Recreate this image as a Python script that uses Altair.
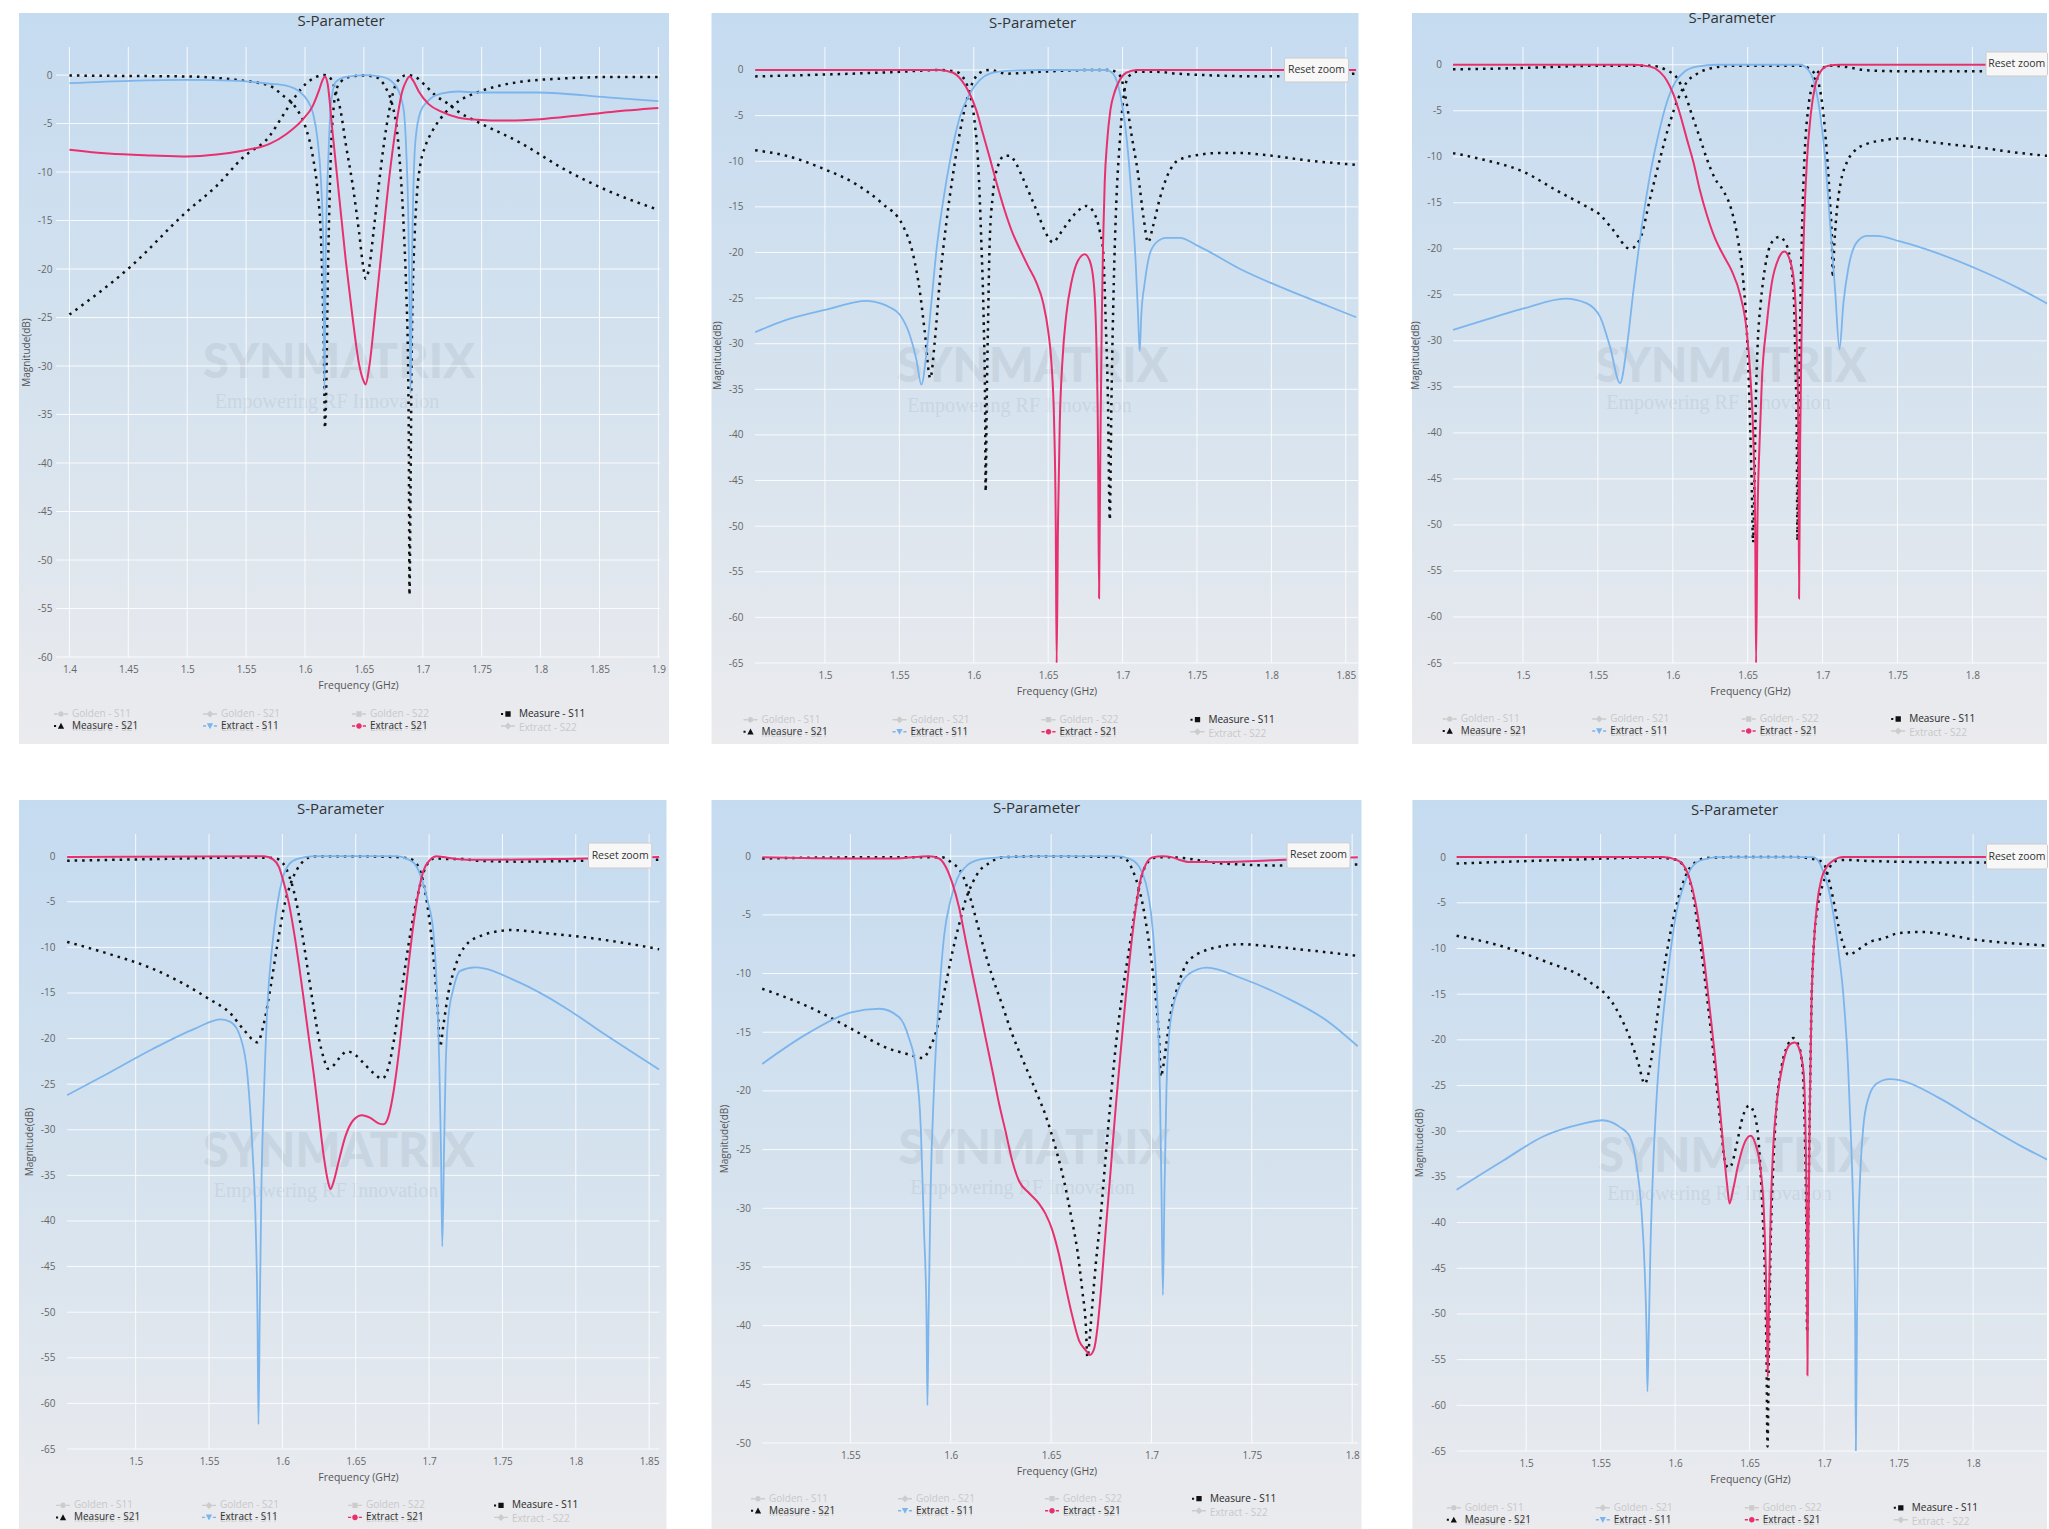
import json
import altair as alt
import pandas as pd

# ---------------------------------------------------------------- legend entries
SERIES = ["Golden - S11", "Golden - S21", "Golden - S22", "Measure - S11",
          "Measure - S21", "Extract - S11", "Extract - S21", "Extract - S22"]
HIDDEN = ["Golden - S11", "Golden - S21", "Golden - S22", "Extract - S22"]
SERIES_COLORS = ["#cccccc", "#cccccc", "#cccccc", "#111111",
                 "#111111", "#7cb5ec", "#e8306e", "#cccccc"]

# ---------------------------------------------------------------- axis ticks
X_TICKS_WIDE = [1.4, 1.45, 1.5, 1.55, 1.6, 1.65, 1.7, 1.75, 1.8, 1.85, 1.9]
X_TICKS_ZOOM = [1.5, 1.55, 1.6, 1.65, 1.7, 1.75, 1.8, 1.85]
X_TICKS_CUT = [1.5, 1.55, 1.6, 1.65, 1.7, 1.75, 1.8]
X_TICKS_NARROW = [1.55, 1.6, 1.65, 1.7, 1.75, 1.8]
Y_TICKS_60 = [-60, -55, -50, -45, -40, -35, -30, -25, -20, -15, -10, -5, 0]
Y_TICKS_65 = [-65, -60, -55, -50, -45, -40, -35, -30, -25, -20, -15, -10, -5, 0]
Y_TICKS_50 = [-50, -45, -40, -35, -30, -25, -20, -15, -10, -5, 0]

# ---------------------------------------------------------------- panel 1 (frequency GHz, magnitude dB)
P1_MEAS_S11 = [(1.400, -0.05), (1.450, -0.1), (1.500, -0.15), (1.525, -0.3), (1.545, -0.55),
               (1.5699, -1.1), (1.5811, -2.1), (1.5924, -3.4), (1.6008, -5.5), (1.6065, -8.3),
               (1.6107, -12.0), (1.6135, -16.6), (1.6150, -22.4), (1.6163, -30.7), (1.6169, -36.4),
               (1.6183, -30.7), (1.6192, -22.4), (1.6206, -14.1), (1.6220, -7.9), (1.6240, -3.8),
               (1.6262, -1.7), (1.6304, -0.7), (1.6375, -0.2), (1.6500, -0.05), (1.6600, -0.2),
               (1.6685, -1.3), (1.6740, -3.0), (1.6783, -5.9), (1.6811, -10.0), (1.6840, -16.2),
               (1.6860, -22.4), (1.6876, -30.7), (1.6882, -38.9), (1.6887, -53.6), (1.6896, -43.0),
               (1.6904, -30.7), (1.6915, -22.4), (1.6932, -16.2), (1.6952, -12.0), (1.6980, -9.2),
               (1.7023, -7.3), (1.7080, -5.8), (1.7150, -4.5), (1.7230, -3.4), (1.7304, -2.7),
               (1.7460, -1.8), (1.7650, -1.1), (1.7830, -0.7), (1.8200, -0.35), (1.8600, -0.2),
               (1.9000, -0.2)]
P1_MEAS_S21 = [(1.400, -24.7), (1.4515, -19.8), (1.4994, -14.1), (1.5252, -11.4), (1.5473, -8.5),
               (1.5699, -6.3), (1.5811, -4.2), (1.5924, -2.1), (1.6008, -0.9), (1.6093, -0.2),
               (1.6160, 0.0), (1.6206, -0.2), (1.6262, -1.7), (1.6304, -3.8), (1.6346, -7.1),
               (1.6403, -11.2), (1.6459, -16.2), (1.6496, -19.9), (1.6515, -21.0), (1.6544, -19.9),
               (1.6586, -15.7), (1.6628, -11.2), (1.6670, -7.1), (1.6713, -3.8), (1.6755, -1.5),
               (1.6811, -0.3), (1.6868, 0.0), (1.6938, -0.2), (1.7023, -1.1), (1.7107, -2.1),
               (1.7220, -3.0), (1.7304, -3.8), (1.7460, -4.8), (1.7830, -7.0), (1.8200, -9.7),
               (1.8566, -11.9), (1.9000, -13.9)]
P1_EXT_S11 = [(1.400, -0.84), (1.4515, -0.6), (1.500, -0.5), (1.5436, -0.6), (1.5699, -0.9),
              (1.584, -1.1), (1.5952, -1.7), (1.602, -2.6), (1.6065, -3.8), (1.6107, -6.7),
              (1.6135, -10.8), (1.6155, -17.4), (1.6165, -32.5), (1.6177, -18.0), (1.6200, -8.0),
              (1.6220, -3.0), (1.6262, -0.7), (1.6346, -0.2), (1.6515, 0.0), (1.6656, -0.2),
              (1.6740, -0.7), (1.6797, -1.7), (1.6840, -3.8), (1.6860, -7.9), (1.6876, -14.0),
              (1.6887, -22.4), (1.6896, -32.8), (1.6910, -18.0), (1.6938, -6.7), (1.6980, -3.8),
              (1.7050, -2.6), (1.7163, -1.9), (1.7304, -1.7), (1.7460, -1.8), (1.7976, -1.8),
              (1.8566, -2.3), (1.9000, -2.7)]
P1_EXT_S21 = [(1.400, -7.7), (1.433, -8.1), (1.470, -8.3), (1.500, -8.4), (1.525, -8.2),
              (1.547, -7.8), (1.5699, -7.1), (1.584, -6.1), (1.598, -4.6), (1.6065, -3.2),
              (1.6121, -1.5), (1.615, -0.5), (1.6169, -0.15), (1.6192, -0.9), (1.6234, -5.9),
              (1.629, -12.5), (1.6346, -19.1), (1.6403, -24.9), (1.6459, -29.8), (1.6496, -31.5),
              (1.6515, -31.9), (1.6544, -30.2), (1.660, -24.0), (1.6656, -17.4), (1.6713, -10.8),
              (1.677, -5.5), (1.6825, -1.7), (1.686, -0.6), (1.6887, -0.15), (1.6924, -0.7),
              (1.6966, -1.7), (1.705, -3.0), (1.7163, -3.8), (1.7304, -4.4), (1.746, -4.6),
              (1.770, -4.7), (1.800, -4.55), (1.830, -4.2), (1.860, -3.8), (1.900, -3.4)]

# ---------------------------------------------------------------- panel 2
P2_MEAS_S11 = [(1.4531, -8.8), (1.474, -9.4), (1.500, -10.9), (1.5207, -12.5), (1.5382, -14.6),
               (1.5525, -17.1), (1.5592, -20.2), (1.5637, -24.2), (1.567, -28.6), (1.5708, -33.8),
               (1.5737, -29.9), (1.5771, -23.3), (1.5816, -16.7), (1.5861, -11.4), (1.5905, -7.0),
               (1.595, -3.5), (1.5995, -1.3), (1.604, -0.3), (1.6107, 0.0), (1.6219, -0.4),
               (1.6443, -0.2), (1.6779, 0.0), (1.6914, 0.0), (1.6981, -0.6), (1.7026, -3.5),
               (1.7059, -7.0), (1.7104, -11.4), (1.7142, -16.3), (1.7171, -18.9), (1.7205, -17.1),
               (1.725, -14.1), (1.7306, -11.4), (1.7373, -9.9), (1.751, -9.3), (1.7655, -9.1),
               (1.780, -9.1), (1.7947, -9.3), (1.8238, -9.9), (1.857, -10.4)]
P2_MEAS_S21 = [(1.4531, -0.7), (1.500, -0.5), (1.550, -0.2), (1.577, 0.0), (1.5883, -0.2),
               (1.5939, -1.1), (1.5973, -2.6), (1.6006, -5.7), (1.6029, -10.1), (1.6051, -18.9),
               (1.6067, -27.7), (1.6076, -36.5), (1.608, -46.2), (1.6087, -36.5), (1.6096, -27.7),
               (1.6107, -18.9), (1.6129, -13.6), (1.6163, -10.5), (1.6208, -9.4), (1.6242, -9.4),
               (1.6286, -10.3), (1.6331, -11.9), (1.6376, -13.6), (1.6432, -15.8), (1.6488, -18.0),
               (1.6533, -18.9), (1.6578, -18.0), (1.6634, -16.7), (1.669, -15.6), (1.6757, -14.9),
               (1.6813, -15.8), (1.6846, -17.6), (1.6869, -19.8), (1.6887, -27.7), (1.6902, -36.5),
               (1.6914, -49.3), (1.6925, -36.5), (1.6941, -23.3), (1.6958, -14.5), (1.6981, -7.9),
               (1.7003, -3.5), (1.7037, -0.8), (1.7093, -0.2), (1.7227, -0.2), (1.7364, -0.4),
               (1.7947, -0.7), (1.857, -0.4)]
P2_EXT_S11 = [(1.4531, -28.75), (1.474, -27.4), (1.500, -26.3), (1.528, -25.3), (1.538, -25.6),
              (1.5435, -26.0), (1.5502, -26.8), (1.5569, -29.0), (1.5614, -31.7), (1.5648, -34.5),
              (1.5681, -31.2), (1.5715, -25.5), (1.5749, -19.8), (1.5793, -14.5), (1.5849, -9.2),
              (1.5905, -5.2), (1.5973, -2.6), (1.604, -1.1), (1.6107, -0.4), (1.6219, -0.1),
              (1.6443, 0.0), (1.6891, 0.0), (1.6936, -0.4), (1.697, -1.7), (1.7003, -4.4),
              (1.703, -7.9), (1.7059, -13.6), (1.7088, -21.1), (1.7104, -26.8), (1.7115, -30.8),
              (1.7126, -26.8), (1.7149, -23.3), (1.7182, -20.2), (1.7227, -18.9), (1.7294, -18.4),
              (1.7384, -18.4), (1.751, -19.3), (1.780, -21.9), (1.8092, -24.0), (1.8384, -25.9),
              (1.857, -27.1)]
P2_EXT_S21 = [(1.4531, 0.0), (1.577, 0.0), (1.586, -0.3), (1.5917, -1.1), (1.5973, -2.6),
              (1.6017, -4.4), (1.6062, -7.0), (1.6107, -9.6), (1.6152, -12.3), (1.6208, -15.4),
              (1.6264, -18.0), (1.6309, -19.6), (1.6365, -21.5), (1.6421, -23.3), (1.6466, -25.5),
              (1.650, -28.6), (1.6522, -32.1), (1.654, -38.7), (1.6551, -49.7), (1.6557, -65.0),
              (1.6566, -49.7), (1.6578, -38.7), (1.6595, -32.1), (1.6622, -26.8), (1.6656, -23.3),
              (1.670, -20.9), (1.6746, -20.2), (1.6779, -20.9), (1.6806, -23.3), (1.6824, -29.9),
              (1.6835, -40.9), (1.6842, -57.9), (1.6851, -40.9), (1.686, -27.7), (1.6869, -18.9),
              (1.688, -12.3), (1.6896, -7.9), (1.6918, -4.4), (1.6947, -2.4), (1.6981, -1.1),
              (1.7026, -0.3), (1.7093, 0.0), (1.857, 0.0)]

# ---------------------------------------------------------------- panel 3
P3_MEAS_S11 = [(1.4533, -9.6), (1.4732, -10.3), (1.500, -11.6), (1.5229, -13.7), (1.5423, -15.4),
               (1.5515, -16.3), (1.5604, -18.0), (1.5715, -20.0), (1.5782, -18.9), (1.5849, -14.5),
               (1.5915, -10.2), (1.5982, -6.2), (1.6038, -3.6), (1.6093, -1.9), (1.616, -1.0),
               (1.6249, -0.4), (1.6405, -0.1), (1.685, -0.1), (1.6939, -0.8), (1.6984, -2.8),
               (1.7011, -6.2), (1.7033, -10.6), (1.705, -15.0), (1.7061, -18.5), (1.7068, -23.1),
               (1.7079, -19.3), (1.7095, -15.9), (1.7121, -12.8), (1.7162, -10.6), (1.7217, -9.3),
               (1.7295, -8.6), (1.7406, -8.2), (1.7518, -8.0), (1.777, -8.5), (1.8047, -9.0),
               (1.8323, -9.6), (1.857, -10.0)]
P3_MEAS_S21 = [(1.4533, -0.5), (1.500, -0.35), (1.5515, -0.1), (1.5849, -0.1), (1.596, -0.6),
               (1.6027, -1.4), (1.6082, -3.2), (1.6127, -5.4), (1.6182, -8.0), (1.6227, -10.2),
               (1.6283, -12.4), (1.6338, -13.7), (1.6394, -15.9), (1.6438, -19.3), (1.6472, -23.7),
               (1.6498, -30.3), (1.6516, -39.0), (1.6527, -45.5), (1.6536, -51.9), (1.6545, -45.5),
               (1.6554, -36.8), (1.6567, -30.3), (1.6587, -25.9), (1.6616, -22.0), (1.6661, -19.3),
               (1.6712, -18.7), (1.675, -19.3), (1.6783, -21.1), (1.6806, -24.6), (1.6819, -32.4),
               (1.6828, -41.2), (1.6832, -51.7), (1.6839, -41.2), (1.6846, -32.4), (1.6855, -23.7),
               (1.6868, -15.0), (1.6883, -8.9), (1.6906, -4.5), (1.6939, -1.9), (1.6984, -0.6),
               (1.705, -0.1), (1.7139, -0.2), (1.7295, -0.6), (1.7518, -0.7), (1.8047, -0.7),
               (1.857, -0.6)]
P3_EXT_S11 = [(1.4533, -28.8), (1.4732, -27.8), (1.500, -26.5), (1.5285, -25.4), (1.5423, -25.9),
              (1.5515, -27.4), (1.5582, -30.7), (1.5648, -34.6), (1.5693, -30.7), (1.5737, -24.6),
              (1.5793, -17.6), (1.5849, -11.9), (1.5904, -7.6), (1.596, -4.1), (1.6016, -1.9),
              (1.6082, -0.7), (1.616, -0.2), (1.6294, 0.0), (1.685, 0.0), (1.6906, -0.6),
              (1.695, -2.3), (1.6984, -5.4), (1.7017, -10.2), (1.705, -17.2), (1.7084, -24.6),
              (1.7113, -30.9), (1.7139, -25.9), (1.7173, -22.0), (1.7228, -19.3), (1.7295, -18.6),
              (1.7362, -18.6), (1.7518, -19.2), (1.777, -20.5), (1.8047, -22.3), (1.8323, -24.4),
              (1.857, -26.6)]
P3_EXT_S21 = [(1.4533, 0.0), (1.5737, 0.0), (1.5849, -0.2), (1.5915, -0.8), (1.596, -1.7),
              (1.6004, -3.2), (1.6049, -5.4), (1.6093, -8.0), (1.6138, -10.6), (1.6182, -13.7),
              (1.6227, -16.3), (1.6283, -18.9), (1.6338, -20.7), (1.6394, -22.4), (1.645, -25.0),
              (1.6494, -29.0), (1.6521, -34.6), (1.6539, -41.2), (1.655, -49.9), (1.6556, -65.0),
              (1.6565, -49.9), (1.6579, -41.2), (1.6594, -34.6), (1.6628, -28.1), (1.6661, -23.7),
              (1.6705, -21.1), (1.6745, -20.3), (1.6783, -21.3), (1.681, -23.7), (1.6828, -30.3),
              (1.6839, -41.2), (1.6843, -58.0), (1.685, -41.2), (1.6861, -28.1), (1.6877, -17.2),
              (1.6895, -10.6), (1.6921, -5.4), (1.695, -2.3), (1.6984, -0.8), (1.7039, -0.1),
              (1.7117, 0.0), (1.857, 0.0)]

# ---------------------------------------------------------------- panel 4
P4_MEAS_S11 = [(1.4533, -9.4), (1.4814, -10.7), (1.5109, -12.3), (1.5316, -13.9), (1.5494, -15.6),
               (1.5649, -17.3), (1.574, -19.1), (1.583, -20.4), (1.5876, -18.2), (1.5921, -14.2),
               (1.5966, -9.7), (1.6011, -5.6), (1.6057, -3.0), (1.6102, -1.4), (1.6147, -0.5),
               (1.6215, 0.0), (1.6441, 0.0), (1.6781, -0.1), (1.6871, -0.3), (1.6928, -1.2),
               (1.6962, -3.0), (1.6995, -6.1), (1.7029, -11.0), (1.7057, -16.4), (1.7075, -20.9),
               (1.7097, -18.6), (1.7131, -15.0), (1.7165, -12.8), (1.721, -10.8), (1.7326, -8.9),
               (1.7563, -8.1), (1.777, -8.4), (1.8065, -8.9), (1.8361, -9.6), (1.8568, -10.2)]
P4_MEAS_S21 = [(1.4533, -0.5), (1.520, -0.3), (1.573, -0.15), (1.5943, -0.2), (1.600, -0.7),
               (1.6045, -2.1), (1.6079, -3.9), (1.6113, -6.5), (1.6147, -9.7), (1.6181, -13.3),
               (1.6215, -16.8), (1.6249, -20.0), (1.6283, -22.2), (1.631, -23.3), (1.6339, -23.1),
               (1.6385, -22.2), (1.6441, -21.4), (1.6498, -21.8), (1.6554, -22.7), (1.6622, -23.8),
               (1.6679, -24.4), (1.6724, -23.1), (1.6758, -20.4), (1.6792, -16.8), (1.6826, -13.3),
               (1.686, -9.7), (1.6894, -6.5), (1.6928, -3.9), (1.6962, -1.8), (1.6995, -0.7),
               (1.7041, -0.2), (1.7097, -0.3), (1.721, -0.3), (1.7326, -0.5), (1.7622, -0.6),
               (1.8065, -0.5), (1.8568, -0.4)]
P4_EXT_S11 = [(1.4533, -26.2), (1.4814, -23.8), (1.5109, -21.2), (1.5405, -18.9), (1.5582, -17.9),
              (1.5649, -18.2), (1.5717, -20.0), (1.5762, -24.0), (1.5796, -32.1), (1.5819, -41.0),
              (1.583, -50.0), (1.5837, -62.3), (1.5846, -50.0), (1.5857, -36.5), (1.5876, -25.3),
              (1.5898, -16.4), (1.5932, -9.7), (1.5966, -5.2), (1.600, -2.5), (1.6045, -0.9),
              (1.6102, -0.3), (1.6215, 0.0), (1.6781, 0.0), (1.6848, -0.3), (1.6905, -0.9),
              (1.695, -2.5), (1.6995, -5.2), (1.7029, -8.3), (1.7052, -14.2), (1.707, -23.1),
              (1.7081, -32.1), (1.709, -42.8), (1.7102, -32.1), (1.7113, -23.1), (1.7131, -17.7),
              (1.7165, -14.6), (1.721, -12.6), (1.7312, -12.2), (1.7622, -13.9), (1.7917, -16.5),
              (1.8213, -19.7), (1.8568, -23.4)]
P4_EXT_S21 = [(1.4533, -0.1), (1.5876, 0.0), (1.5932, -0.3), (1.5977, -1.2), (1.6011, -3.0),
              (1.6045, -5.2), (1.6079, -8.3), (1.6113, -11.9), (1.6147, -15.9), (1.6181, -20.0),
              (1.6215, -24.0), (1.6249, -28.5), (1.6283, -33.0), (1.631, -35.6), (1.6328, -36.5),
              (1.6351, -35.6), (1.6385, -33.4), (1.643, -30.7), (1.6486, -28.9), (1.6543, -28.4),
              (1.660, -28.7), (1.6656, -29.3), (1.669, -29.4), (1.6724, -28.5), (1.6758, -25.8),
              (1.6792, -21.8), (1.6826, -16.8), (1.686, -11.9), (1.6894, -7.4), (1.6928, -3.9),
              (1.6962, -1.6), (1.7007, -0.4), (1.7052, 0.0), (1.7097, -0.1), (1.7188, -0.3),
              (1.7326, -0.4), (1.7917, -0.3), (1.8568, -0.1)]

# ---------------------------------------------------------------- panel 5
P5_MEAS_S11 = [(1.5061, -11.3), (1.5288, -12.8), (1.5504, -14.7), (1.5677, -16.3), (1.5792, -16.9),
               (1.5859, -17.2), (1.590, -16.2), (1.5934, -14.5), (1.5958, -12.4), (1.5983, -10.3),
               (1.6008, -8.2), (1.6042, -5.8), (1.6075, -3.7), (1.6108, -2.3), (1.6141, -1.3),
               (1.6191, -0.6), (1.6257, -0.1), (1.6457, 0.0), (1.6855, -0.1), (1.6889, -0.6),
               (1.6922, -1.9), (1.6955, -4.0), (1.698, -6.5), (1.7005, -9.6), (1.7025, -12.7),
               (1.7038, -15.5), (1.7047, -18.8), (1.7058, -18.0), (1.7075, -15.9), (1.7096, -13.4),
               (1.7121, -11.7), (1.719, -8.8), (1.7341, -7.7), (1.7449, -7.5), (1.760, -7.7),
               (1.7773, -8.0), (1.8028, -8.5)]
P5_MEAS_S21 = [(1.5061, -0.2), (1.5504, -0.1), (1.5892, -0.1), (1.5958, -0.1), (1.6008, -0.6),
               (1.605, -1.3), (1.6075, -2.3), (1.610, -3.7), (1.6133, -5.8), (1.6166, -7.9),
               (1.6208, -10.3), (1.6257, -12.7), (1.6307, -15.2), (1.6365, -17.6), (1.6424, -20.0),
               (1.6473, -22.1), (1.6523, -24.9), (1.6565, -27.7), (1.6598, -30.5), (1.6631, -33.6),
               (1.6656, -37.1), (1.6673, -39.9), (1.6681, -42.7), (1.6693, -40.9), (1.6706, -38.1),
               (1.6723, -34.7), (1.6748, -30.5), (1.6772, -25.6), (1.6797, -20.7), (1.6822, -16.2),
               (1.6855, -11.7), (1.6889, -7.9), (1.6914, -5.1), (1.6939, -2.6), (1.6963, -1.1),
               (1.6997, -0.3), (1.703, -0.1), (1.7105, -0.1), (1.7341, -0.6), (1.7665, -0.8),
               (1.8028, -0.7)]
P5_EXT_S11 = [(1.5061, -17.7), (1.5288, -15.1), (1.5504, -13.3), (1.5645, -13.0), (1.5742, -13.7),
              (1.5792, -15.5), (1.5826, -18.0), (1.5851, -23.2), (1.5867, -31.9), (1.5879, -38.8),
              (1.5884, -46.8), (1.589, -38.8), (1.590, -28.4), (1.5917, -19.7), (1.5942, -12.0),
              (1.5967, -6.8), (1.600, -3.7), (1.6033, -1.9), (1.6075, -0.9), (1.6141, -0.3),
              (1.6241, -0.1), (1.6457, 0.0), (1.6822, 0.0), (1.6889, -0.2), (1.6939, -0.9),
              (1.6972, -2.3), (1.6997, -4.7), (1.7017, -8.6), (1.703, -12.7), (1.7042, -19.7),
              (1.705, -28.4), (1.7057, -37.4), (1.7065, -28.4), (1.7075, -19.7), (1.7088, -15.2),
              (1.711, -12.7), (1.7138, -11.2), (1.719, -10.0), (1.7276, -9.5), (1.7449, -10.4),
              (1.7665, -12.0), (1.7881, -14.1), (1.8028, -16.2)]
P5_EXT_S21 = [(1.5061, -0.1), (1.5504, -0.2), (1.572, -0.2), (1.5892, 0.0), (1.5942, -0.2),
              (1.5975, -0.9), (1.6008, -2.3), (1.6042, -4.4), (1.6075, -7.2), (1.6108, -10.0),
              (1.6141, -12.7), (1.6174, -15.5), (1.6208, -18.3), (1.6241, -21.1), (1.6274, -23.5),
              (1.6307, -26.0), (1.6341, -27.7), (1.639, -28.7), (1.644, -29.6), (1.6473, -30.5),
              (1.6507, -31.9), (1.654, -34.0), (1.6573, -36.7), (1.6606, -39.2), (1.664, -41.3),
              (1.6673, -42.1), (1.6693, -42.5), (1.6714, -42.0), (1.6731, -40.2), (1.6748, -37.1),
              (1.6772, -31.9), (1.6797, -26.7), (1.6822, -21.4), (1.6847, -16.6), (1.6872, -12.0),
              (1.6897, -7.9), (1.6922, -4.4), (1.6947, -1.9), (1.6972, -0.7), (1.7005, -0.1),
              (1.7055, 0.0), (1.7105, -0.1), (1.7138, -0.3), (1.719, -0.5), (1.7341, -0.5),
              (1.7665, -0.3), (1.8028, -0.1)]

# ---------------------------------------------------------------- panel 6
P6_MEAS_S11 = [(1.4533, -8.6), (1.4847, -9.8), (1.5125, -11.4), (1.5403, -13.4), (1.5597, -16.4),
               (1.5696, -19.8), (1.5752, -22.5), (1.5796, -24.8), (1.583, -23.0), (1.5864, -19.4),
               (1.5908, -14.0), (1.5953, -9.6), (1.5998, -6.0), (1.6043, -3.3), (1.6087, -1.5),
               (1.6143, -0.5), (1.621, -0.1), (1.6367, 0.0), (1.6814, 0.0), (1.6949, -0.3),
               (1.6993, -0.6), (1.7038, -2.9), (1.7072, -5.5), (1.7105, -8.2), (1.7139, -10.0),
               (1.7161, -10.7), (1.7195, -10.5), (1.724, -10.0), (1.7306, -9.3), (1.7396, -8.9),
               (1.7508, -8.3), (1.7653, -8.2), (1.8042, -9.1), (1.8508, -9.7)]
P6_MEAS_S21 = [(1.4533, -0.7), (1.5264, -0.3), (1.5819, -0.05), (1.5919, -0.1), (1.6009, -0.3),
               (1.6087, -2.0), (1.6121, -4.2), (1.6154, -7.8), (1.6188, -11.8), (1.6221, -16.3),
               (1.6255, -21.2), (1.6282, -25.6), (1.6311, -30.1), (1.6333, -33.2), (1.6356, -34.0),
               (1.6378, -33.7), (1.6412, -31.5), (1.6456, -28.3), (1.6497, -27.2), (1.6535, -28.3),
               (1.6564, -31.9), (1.6586, -38.6), (1.6602, -45.3), (1.6613, -54.2), (1.662, -64.5),
               (1.6629, -54.2), (1.664, -43.1), (1.6658, -34.1), (1.668, -27.4), (1.6714, -23.0),
               (1.6758, -20.5), (1.6792, -19.8), (1.6826, -20.5), (1.6855, -23.0), (1.687, -29.7),
               (1.6881, -40.8), (1.6886, -52.0), (1.6893, -40.8), (1.6904, -27.4), (1.6915, -16.3),
               (1.6931, -9.6), (1.696, -5.1), (1.6993, -2.9), (1.7038, -1.1), (1.7083, -0.4),
               (1.715, -0.3), (1.7262, -0.4), (1.7486, -0.5), (1.8042, -0.6), (1.8508, -0.6)]
P6_EXT_S11 = [(1.4533, -36.4), (1.4847, -33.2), (1.5125, -30.5), (1.5375, -29.2), (1.5514, -28.8),
              (1.5625, -29.5), (1.5696, -30.6), (1.5741, -33.7), (1.5774, -38.6), (1.5796, -45.3),
              (1.5808, -52.0), (1.5814, -58.5), (1.5823, -52.0), (1.5834, -43.1), (1.5852, -34.1),
              (1.5875, -26.5), (1.5908, -19.4), (1.5942, -14.0), (1.5975, -9.6), (1.6009, -6.0),
              (1.6054, -3.3), (1.6098, -1.5), (1.6143, -0.6), (1.621, -0.2), (1.6277, 0.0),
              (1.6926, 0.0), (1.696, -0.4), (1.6993, -1.5), (1.7027, -3.3), (1.706, -6.0),
              (1.7094, -10.0), (1.7128, -14.9), (1.7161, -23.0), (1.7183, -31.9), (1.7199, -40.8),
              (1.7208, -49.8), (1.7213, -65.0), (1.7221, -49.8), (1.723, -40.8), (1.7244, -34.1),
              (1.7262, -29.7), (1.7295, -26.5), (1.7351, -24.8), (1.7441, -24.3), (1.7508, -24.4),
              (1.7764, -26.3), (1.8042, -29.0), (1.8319, -31.6), (1.8508, -33.2)]
P6_EXT_S21 = [(1.4533, 0.0), (1.5919, 0.0), (1.6009, -0.3), (1.6065, -1.1), (1.6098, -2.4),
              (1.6132, -4.6), (1.6166, -7.8), (1.6199, -11.8), (1.6233, -16.7), (1.6266, -21.6),
              (1.6295, -26.5), (1.6322, -31.5), (1.6349, -35.9), (1.6365, -37.9), (1.6389, -36.4),
              (1.6423, -33.7), (1.6468, -31.2), (1.6506, -30.5), (1.6541, -31.5), (1.6573, -34.1),
              (1.6595, -38.6), (1.6609, -45.3), (1.6617, -52.0), (1.6622, -56.9), (1.6631, -47.5),
              (1.6642, -38.6), (1.6658, -31.9), (1.6685, -26.5), (1.6725, -22.5), (1.677, -20.5),
              (1.6803, -20.3), (1.6837, -21.2), (1.6864, -23.9), (1.6877, -31.9), (1.6884, -40.8),
              (1.6888, -56.7), (1.6895, -40.8), (1.6904, -27.4), (1.6915, -16.3), (1.6931, -9.6),
              (1.6953, -5.1), (1.6982, -2.4), (1.7016, -1.1), (1.706, -0.4), (1.7128, 0.0),
              (1.8508, 0.0)]

# ---------------------------------------------------------------- styling
FONT = "Open Sans"
PANEL_FILL = {"gradient": "linear", "x1": 0, "x2": 0, "y1": 0, "y2": 1,
              "stops": [{"offset": 0, "color": "#c5dbf0"},
                        {"offset": 0.55, "color": "#d7e3ee"},
                        {"offset": 1, "color": "#ebebee"}]}
MEAS_COLOR = "#111111"
EXT_S11_COLOR = "#7cb5ec"
EXT_S21_COLOR = "#e8306e"

# legend glyphs: short line (solid / dotted / dashed) with a marker in the middle
_SOLID = "M-1,-0.1H-0.45V0.1H-1Z M0.45,-0.1H1V0.1H0.45Z "
_DASH = "M-1,-0.1H-0.55V0.1H-1Z M0.55,-0.1H1V0.1H0.55Z "
_DOT = "M-1,-0.14h0.3v0.28h-0.3Z "
_CIRCLE = "M0.4,0A0.4,0.4,0,1,1,-0.4,0A0.4,0.4,0,1,1,0.4,0Z"
_DIAMOND = "M0,-0.5L0.5,0L0,0.5L-0.5,0Z"
_SQUARE = "M-0.38,-0.38H0.38V0.38H-0.38Z"
_TRI_UP = "M0,-0.45L0.45,0.4H-0.45Z"
_TRI_DOWN = "M-0.45,-0.4H0.45L0,0.45Z"
SYMBOLS = [_SOLID + _CIRCLE, _SOLID + _DIAMOND, _SOLID + _SQUARE, _DOT + _SQUARE,
           _DOT + _TRI_UP, _DASH + _TRI_DOWN, _DASH + _CIRCLE, _SOLID + _DIAMOND]

HIDDEN_EXPR = "indexof(" + json.dumps(HIDDEN) + ", datum.label) >= 0 ? '' : datum.label"

PANELS = [
    dict(w=604, h=610, xdom=[1.3886, 1.9014], ydom=[-60, 2.89], xt=X_TICKS_WIDE, yt=Y_TICKS_60,
         gx=[1.3886, 1.9014], bg=(-37, 613, -34, 697), tdx=-17, ty=-26, ylp=4,
         lx=-2, ly=660, lcp=64, reset=None, wm=(283, 317, 271, 355),
         data=(P1_MEAS_S11, P1_MEAS_S21, P1_EXT_S11, P1_EXT_S21)),
    dict(w=603, h=616, xdom=[1.453, 1.8582], ydom=[-65, 2.52], xt=X_TICKS_ZOOM, yt=Y_TICKS_65,
         gx=[1.453, 1.8582], bg=(-43.5, 603.5, -34, 697), tdx=-24, ty=-24, ylp=12,
         lx=-11.5, ly=665.7, lcp=64, reset=(529.5, 593.5, 11, 35), wm=(277.5, 321, 264.5, 359),
         data=(P2_MEAS_S11, P2_MEAS_S21, P2_EXT_S11, P2_EXT_S21)),
    dict(w=594, h=616, xdom=[1.4533, 1.8498], ydom=[-65, 1.93], xt=X_TICKS_CUT, yt=Y_TICKS_65,
         gx=[1.4533, 1.8498], bg=(-41, 594, -34, 697), tdx=-18, ty=-29, ylp=11.5,
         lx=-10.3, ly=665, lcp=64.5, reset=(533, 594.5, 5, 29), wm=(278, 321, 265.5, 356),
         data=(P3_MEAS_S11, P3_MEAS_S21, P3_EXT_S11, P3_EXT_S21)),
    dict(w=604, h=615, xdom=[1.4457, 1.8574], ydom=[-65, 2.43], xt=X_TICKS_ZOOM, yt=Y_TICKS_65,
         gx=[1.4533, 1.857], bg=(-37, 610.5, -34, 696), tdx=-17.5, ty=-24.7, ylp=1,
         lx=0, ly=664.4, lcp=61, reset=(532.5, 595.8, 9, 34), wm=(283, 319, 270, 357),
         data=(P4_MEAS_S11, P4_MEAS_S21, P4_EXT_S11, P4_EXT_S21)),
    dict(w=603, h=609, xdom=[1.5025, 1.8029], ydom=[-50, 1.89], xt=X_TICKS_NARROW, yt=Y_TICKS_50,
         gx=[1.5062, 1.8029], bg=(-43.5, 606.5, -34, 696), tdx=-20, ty=-25.7, ylp=4.5,
         lx=-4, ly=657.7, lcp=62, reset=(532, 595, 8.8, 34), wm=(279.5, 316, 267.5, 354),
         data=(P5_MEAS_S11, P5_MEAS_S21, P5_EXT_S11, P5_EXT_S21)),
    dict(w=594, h=617, xdom=[1.4509, 1.8496], ydom=[-65, 2.53], xt=X_TICKS_CUT, yt=Y_TICKS_65,
         gx=[1.4534, 1.8496], bg=(-40.6, 594, -34, 696), tdx=-15.5, ty=-24.3, ylp=7.5,
         lx=-6.2, ly=666.8, lcp=64, reset=(533.5, 594.5, 10, 35), wm=(281, 323.6, 266.5, 359.5),
         data=(P6_MEAS_S11, P6_MEAS_S21, P6_EXT_S11, P6_EXT_S21)),
]


def curve_frame(points, name):
    return pd.DataFrame({"f": [p[0] for p in points], "db": [p[1] for p in points], "series": name})


def build_panel(cfg):
    meas_s11, meas_s21, ext_s11, ext_s21 = cfg["data"]
    xs = alt.Scale(domain=cfg["xdom"], nice=False, zero=False)
    ys = alt.Scale(domain=cfg["ydom"], nice=False, zero=False)
    x_axis = alt.Axis(values=cfg["xt"], labelExpr="'' + datum.value", grid=False, domain=False,
                      ticks=False, labelFont=FONT, labelFontSize=10, labelColor="#666666",
                      labelPadding=7, labelFlush=False, labelOverlap=False, titleFont=FONT,
                      titleFontSize=10.5, titleFontWeight="normal", titleColor="#555555",
                      titlePadding=6, zindex=1)
    y_axis = alt.Axis(values=cfg["yt"], labelExpr="'' + datum.value", grid=False, domain=False,
                      ticks=False, labelFont=FONT, labelFontSize=10, labelColor="#666666",
                      labelPadding=cfg["ylp"], labelFlush=False, labelOverlap=False,
                      titleFont=FONT, titleFontSize=10, titleFontWeight="normal",
                      titleColor="#555555", titlePadding=6, zindex=1)
    X = alt.X("f:Q", scale=xs, axis=x_axis, title="Frequency (GHz)")
    Y = alt.Y("db:Q", scale=ys, axis=y_axis, title="Magnitude(dB)")
    one = pd.DataFrame({"k": [0]})

    bx0, bx1, by0, by1 = cfg["bg"]
    layers = [alt.Chart(one).mark_rect(fill=PANEL_FILL).encode(
        x=alt.value(bx0), x2=alt.value(bx1), y=alt.value(by0), y2=alt.value(by1))]

    # chart title inside the panel header
    layers.append(alt.Chart(one).mark_text(
        text="S-Parameter", font=FONT, fontSize=15, color="#333333",
        align="center", baseline="middle").encode(
        x=alt.value(cfg["w"] / 2 + cfg["tdx"]), y=alt.value(cfg["ty"])))

    wx, wy, sx, sy = cfg["wm"]
    layers.append(alt.Chart(one).mark_text(
        text="SYNMATRIX", font="Lato", fontWeight=900, fontSize=47, color="#8a98a8",
        opacity=0.17, align="center", baseline="middle").encode(x=alt.value(wx), y=alt.value(wy)))
    layers.append(alt.Chart(one).mark_text(
        text="Empowering RF Innovation", font="Liberation Serif", fontSize=20, color="#8a98a8",
        opacity=0.17, align="center", baseline="middle").encode(x=alt.value(sx), y=alt.value(sy)))

    # grid: vertical at every frequency tick, horizontal over the swept range
    layers.append(alt.Chart(pd.DataFrame({"f": cfg["xt"]})).mark_rule(
        color="#ffffff", strokeWidth=1, opacity=0.85).encode(x=X))
    layers.append(alt.Chart(pd.DataFrame({"db": cfg["yt"]})).mark_rule(
        color="#ffffff", strokeWidth=1, opacity=0.85).encode(
        y=Y, x=alt.datum(cfg["gx"][0]), x2=alt.datum(cfg["gx"][1])))

    measured = pd.concat([curve_frame(meas_s11, "Measure - S11"),
                          curve_frame(meas_s21, "Measure - S21")])
    layers.append(alt.Chart(measured).mark_line(
        color=MEAS_COLOR, strokeDash=[2.5, 5], strokeWidth=2.5, interpolate="monotone",
        clip=True).encode(x=X, y=Y, detail="series:N"))
    layers.append(alt.Chart(curve_frame(ext_s11, "Extract - S11")).mark_line(
        color=EXT_S11_COLOR, strokeWidth=1.8, interpolate="monotone", clip=True).encode(x=X, y=Y))
    layers.append(alt.Chart(curve_frame(ext_s21, "Extract - S21")).mark_line(
        color=EXT_S21_COLOR, strokeWidth=2, interpolate="monotone", clip=True).encode(x=X, y=Y))

    if cfg["reset"] is not None:
        rx0, rx1, ry0, ry1 = cfg["reset"]
        layers.append(alt.Chart(one).mark_rect(
            fill="#f7f7f7", stroke="#cccccc", strokeWidth=1, cornerRadius=2).encode(
            x=alt.value(rx0), x2=alt.value(rx1), y=alt.value(ry0), y2=alt.value(ry1)))
        layers.append(alt.Chart(one).mark_text(
            text="Reset zoom", font=FONT, fontSize=10.5, color="#333333",
            align="center", baseline="middle").encode(
            x=alt.value((rx0 + min(rx1, rx0 + 64)) / 2), y=alt.value((ry0 + ry1) / 2)))

    # legend: a grey copy of every label underneath, the active series in dark on top
    common = dict(title=None, orient="none", legendX=cfg["lx"], legendY=cfg["ly"],
                  direction="horizontal", columns=4, columnPadding=cfg["lcp"], rowPadding=0,
                  symbolSize=196, symbolStrokeWidth=0, labelFont=FONT, labelFontSize=10,
                  labelOffset=4, gridAlign="all", padding=0)
    tags = [s + "~" for s in SERIES]
    ghost = pd.DataFrame({"f": [cfg["xdom"][0] - 1.0] * len(SERIES), "db": [0.0] * len(SERIES),
                          "series": SERIES, "tag": tags})
    layers.append(alt.Chart(ghost).mark_point(clip=True, opacity=0).encode(
        x=X, y=Y,
        stroke=alt.Stroke("tag:N", scale=alt.Scale(domain=tags, range=["#c8c8c8"] * len(tags)),
                          legend=alt.Legend(labelColor="#c8c8c8", symbolType="square",
                                            labelExpr="replace(datum.label, '~', '')",
                                            symbolOpacity=0, **common))))
    legend_main = alt.Legend(labelColor="#333333", labelExpr=HIDDEN_EXPR, symbolOpacity=1, **common)
    layers.append(alt.Chart(ghost).mark_point(clip=True, filled=True, opacity=1).encode(
        x=X, y=Y,
        fill=alt.Fill("series:N", scale=alt.Scale(domain=SERIES, range=SERIES_COLORS),
                      legend=legend_main),
        shape=alt.Shape("series:N", scale=alt.Scale(domain=SERIES, range=SYMBOLS),
                        legend=legend_main)))

    return alt.layer(*layers).properties(width=cfg["w"], height=cfg["h"])


chart = alt.concat(*[build_panel(c) for c in PANELS], columns=3,
                   spacing={"row": 171, "column": 95}, bounds="flush")
chart = chart.resolve_scale(x="independent", y="independent", fill="independent",
                            stroke="independent", shape="independent")
chart = chart.properties(padding={"left": 19, "top": 11, "right": 0, "bottom": 0})
chart = chart.configure_view(strokeOpacity=0)

chart.save("out.html", embed_options={"renderer": "svg", "actions": False})
